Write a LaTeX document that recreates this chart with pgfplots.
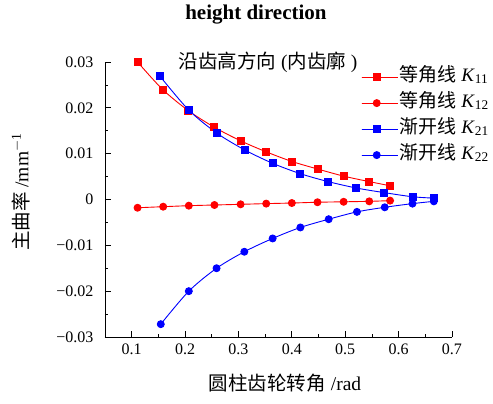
\documentclass[border=0pt]{standalone}
\usepackage{pgfplots}
\pgfplotsset{compat=1.18}
\usepackage{fontspec}
\setmainfont{Liberation Serif}
\newfontfamily\cjk{Noto Sans CJK SC}
\definecolor{pred}{RGB}{255,0,0}
\definecolor{pblue}{RGB}{0,0,255}
\begin{document}
\begin{tikzpicture}
\begin{axis}[
  scale only axis, width=347pt, height=275pt,
  xmin=0.05, xmax=0.7, ymin=-0.03, ymax=0.03,
  scaled y ticks=false, scaled x ticks=false,
  axis lines=left, axis line style={-, line width=0.8pt},
  tick align=inside,
  major tick length=6pt, minor tick length=3pt,
  every tick/.style={black, line width=0.7pt},
  xtick={0.1,0.2,0.3,0.4,0.5,0.6,0.7},
  xticklabels={0.1,0.2,0.3,0.4,0.5,0.6,0.7},
  ytick={-0.03,-0.02,-0.01,0,0.01,0.02,0.03},
  yticklabels={−0.03,−0.02,−0.01,0,0.01,0.02,0.03},
  minor xtick={0.15,0.25,0.35,0.45,0.55,0.65},
  minor ytick={-0.025,-0.015,-0.005,0.005,0.015,0.025},
  ticklabel style={font=\fontsize{16}{18}\selectfont},
  xticklabel style={yshift=-3pt},
  yticklabel style={xshift=-8pt},
  legend style={draw=none, fill=none, at={(rel axis cs:0.738,0.984)}, anchor=north west,
    font=\fontsize{19}{21}\selectfont, row sep=5pt, inner sep=0pt,
    nodes={inner sep=1.5pt, text height=13pt, text depth=5pt}},
  legend cell align=left,
  legend image code/.code={\path (0pt,0pt) -- (36pt,0pt); \draw[#1] (0pt,0pt) -- (30pt,0pt); \draw[#1,mark repeat=2,mark phase=2] plot coordinates {(0pt,0pt) (15pt,0pt) (30pt,0pt)};},
  clip=false,
]
\addplot[pred, line width=0.9pt, smooth, mark=square*, mark size=3.5pt] coordinates {
(0.111,0.0300) (0.158,0.0240) (0.206,0.0194) (0.255,0.01575) (0.304,0.0128) (0.352,0.0104)
(0.400,0.0083) (0.448,0.00666) (0.497,0.0051) (0.545,0.0039) (0.584,0.0030)};
\addlegendentry{{\cjk 等角线} \textit{K}\textsubscript{11}}
\addplot[pred, line width=0.9pt, smooth, mark=*, mark size=3.5pt] coordinates {
(0.111,-0.0018) (0.159,-0.00157) (0.207,-0.00135) (0.255,-0.0012) (0.304,-0.00105) (0.352,-0.0009)
(0.400,-0.00077) (0.448,-0.0006) (0.497,-0.0005) (0.545,-0.0004) (0.584,-0.00025)};
\addlegendentry{{\cjk 等角线} \textit{K}\textsubscript{12}}
\addplot[pblue, line width=0.9pt, smooth, mark=square*, mark size=3.5pt] coordinates {
(0.153,0.0269) (0.207,0.0195) (0.260,0.01444) (0.312,0.0108) (0.364,0.0079) (0.416,0.00563)
(0.468,0.0039) (0.521,0.0025) (0.573,0.0015) (0.626,0.0006) (0.666,0.0003)};
\addlegendentry{{\cjk 渐开线} \textit{K}\textsubscript{21}}
\addplot[pblue, line width=0.9pt, smooth, mark=*, mark size=3.5pt] coordinates {
(0.1545,-0.0272) (0.207,-0.0200) (0.259,-0.0150) (0.311,-0.0114) (0.364,-0.0085) (0.416,-0.0061)
(0.469,-0.0043) (0.522,-0.0027) (0.574,-0.0017) (0.626,-0.0009) (0.666,-0.0004)};
\addlegendentry{{\cjk 渐开线} \textit{K}\textsubscript{22}}
\node[font=\fontsize{19.5}{21}\selectfont] at (rel axis cs:0.47,1.0) {{\cjk 沿齿高方向} ({\cjk 内齿廓} )};
\node[font=\bfseries\fontsize{21}{23}\selectfont] at (rel axis cs:0.435,1.171) {height direction};
\node[font=\fontsize{19.5}{21}\selectfont] at ([yshift=-46pt]rel axis cs:0.519,0) {{\cjk 圆柱齿轮转角} /rad};
\node[font=\fontsize{19.5}{21}\selectfont, rotate=90] at ([xshift=-84pt]rel axis cs:0,0.527) {{\cjk 主曲率} /mm\textsuperscript{$-$1}};
\end{axis}
\path[use as bounding box] (-105pt,-67pt) rectangle (388pt,337pt);
\end{tikzpicture}
\end{document}
